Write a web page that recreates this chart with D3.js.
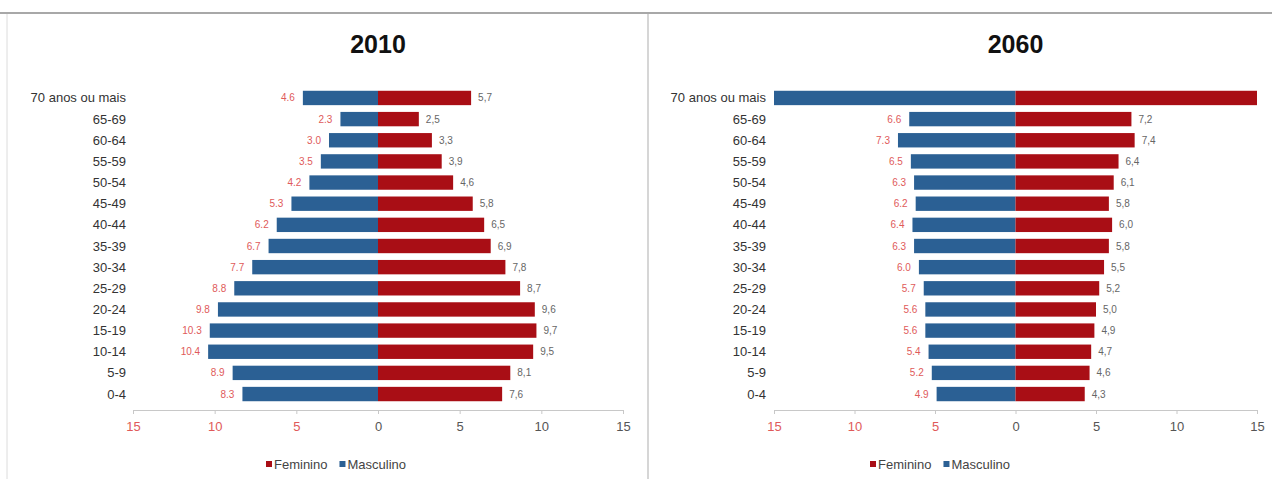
<!DOCTYPE html>
<html><head><meta charset="utf-8">
<script src="https://cdn.jsdelivr.net/npm/d3@7"></script>
<style>body{margin:0;background:#fff}svg{display:block}</style>
</head><body>
<script>
const categories = ["70 anos ou mais","65-69","60-64","55-59","50-54","45-49","40-44","35-39","30-34","25-29","20-24","15-19","10-14","5-9","0-4"];
const masc2010 = [4.6,2.3,3.0,3.5,4.2,5.3,6.2,6.7,7.7,8.8,9.8,10.3,10.4,8.9,8.3];
const fem2010  = [5.7,2.5,3.3,3.9,4.6,5.8,6.5,6.9,7.8,8.7,9.6,9.7,9.5,8.1,7.6];
const masc2060 = [15.0,6.6,7.3,6.5,6.3,6.2,6.4,6.3,6.0,5.7,5.6,5.6,5.4,5.2,4.9];
const fem2060  = [15.0,7.2,7.4,6.4,6.1,5.8,6.0,5.8,5.5,5.2,5.0,4.9,4.7,4.6,4.3];
const tickValues = [-15,-10,-5,0,5,10,15];
const titles = ["2010","2060"];
const seriesNames = ["Feminino","Masculino"];

const W=1272,H=479;
const BLUE="#2b6094", RED="#a90e15";
const FONT="'Liberation Sans Narrow','Arial Narrow','Liberation Sans',Arial,sans-serif";
const svg=d3.select("body").append("svg").attr("width",W).attr("height",H);

// frame
svg.append("line").attr("x1",0).attr("x2",W).attr("y1",13).attr("y2",13).attr("stroke","#a8a8a8").attr("stroke-width",2);
svg.append("line").attr("x1",7).attr("x2",7).attr("y1",14).attr("y2",H).attr("stroke","#dcdcdc");
svg.append("line").attr("x1",648).attr("x2",648).attr("y1",14).attr("y2",H).attr("stroke","#c8c8c8").attr("stroke-width",1.5);

function panel(cfg){
  const g=svg.append("g");
  const x=d3.scaleLinear().domain([-15,15]).range([cfg.x0,cfg.x1]);
  const y=d3.scaleBand().domain(categories).range([84,408]).padding(0.32);
  const clampV=v=>Math.min(v,15);
  // title
  g.append("text").attr("x",x(0)).attr("y",53).attr("text-anchor","middle")
    .attr("font-family",FONT).attr("font-weight","bold").attr("font-size",25).attr("fill","#111").text(cfg.title);
  // bars
  g.selectAll(".m").data(categories).join("rect")
    .attr("x",(d,i)=>x(-clampV(cfg.masc[i]))).attr("y",d=>y(d))
    .attr("width",(d,i)=>x(0)-x(-clampV(cfg.masc[i]))).attr("height",y.bandwidth()).attr("fill",BLUE);
  g.selectAll(".f").data(categories).join("rect")
    .attr("x",x(0)).attr("y",d=>y(d))
    .attr("width",(d,i)=>x(clampV(cfg.fem[i]))-x(0)).attr("height",y.bandwidth()).attr("fill",RED);
  const fmt=v=>v.toFixed(1).replace(".",",");
  const fmtL=v=>v.toFixed(1);
  // labels
  g.selectAll(".ml").data(categories.filter((d,i)=>cfg.masc[i]<15)).join("text")
    .attr("x",d=>x(-cfg.masc[categories.indexOf(d)])-8).attr("y",d=>y(d)+y.bandwidth()/2+3.5)
    .attr("text-anchor","end").attr("font-family",FONT).attr("font-size",10).attr("fill","#e05a5a")
    .text(d=>fmtL(cfg.masc[categories.indexOf(d)]));
  g.selectAll(".fl").data(categories.filter((d,i)=>cfg.fem[i]<15)).join("text")
    .attr("x",d=>x(cfg.fem[categories.indexOf(d)])+7).attr("y",d=>y(d)+y.bandwidth()/2+3.5)
    .attr("text-anchor","start").attr("font-family",FONT).attr("font-size",10).attr("fill","#666")
    .text(d=>fmt(cfg.fem[categories.indexOf(d)]));
  // category axis labels
  g.selectAll(".cl").data(categories).join("text")
    .attr("x",cfg.lx).attr("y",d=>y(d)+y.bandwidth()/2+4.5)
    .attr("text-anchor","end").attr("font-family",FONT).attr("font-size",13).attr("fill","#333").text(d=>d);
  // x axis
  const ax=g.append("g").attr("transform","translate(0,410)")
    .call(d3.axisBottom(x).tickValues(tickValues).tickSize(4).tickFormat(d=>Math.abs(d)));
  ax.select(".domain").attr("stroke","#c8c8c8");
  ax.selectAll(".tick line").attr("stroke","#c8c8c8");
  ax.selectAll(".tick text").attr("font-family",FONT).attr("font-size",13).attr("dy","1.05em")
    .attr("fill",d=>d<0?"#e05a5a":"#555");
  // legend
  const lg=g.append("g").attr("transform",`translate(${cfg.legX},469)`);
  const colors=[RED,BLUE];
  let off=0;
  seriesNames.forEach((n,i)=>{
    lg.append("rect").attr("x",off).attr("y",-8).attr("width",6).attr("height",6).attr("fill",colors[i]);
    const t=lg.append("text").attr("x",off+8).attr("y",0).attr("font-family",FONT).attr("font-size",13).attr("fill","#444").text(n);
    off+=t.node().getComputedTextLength()+20;
  });
}
panel({title:titles[0],masc:masc2010,fem:fem2010,x0:133,x1:623,lx:126,legX:266});
panel({title:titles[1],masc:masc2060,fem:fem2060,x0:774,x1:1257,lx:766,legX:870});
</script>
</body></html>
